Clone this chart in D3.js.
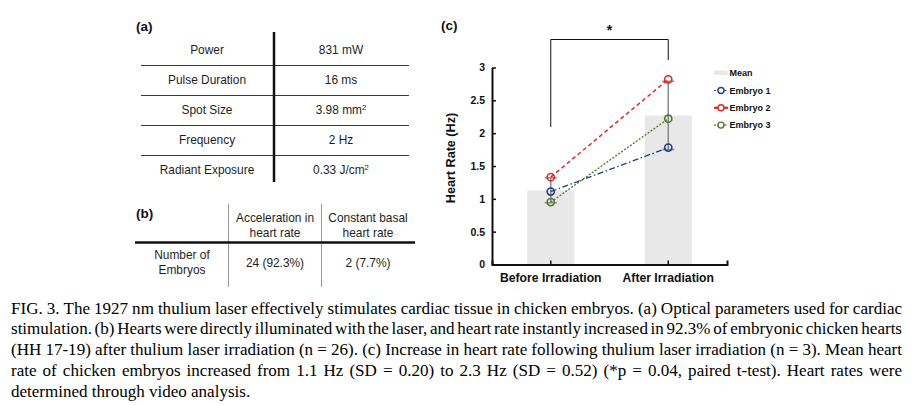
<!DOCTYPE html>
<html>
<head>
<meta charset="utf-8">
<script src="https://cdn.jsdelivr.net/npm/d3@7"></script>
<style>
  html, body { margin: 0; padding: 0; background: #fff; }
  svg { display: block; }
</style>
</head>
<body>
<svg id="fig" width="921" height="405"></svg>
<script>
// ---------- DATA ----------
const paramNames = ["Power", "Pulse Duration", "Spot Size", "Frequency", "Radiant Exposure"];
const paramValues = ["831 mW", "16 ms", "3.98 mm|2", "2 Hz", "0.33 J/cm|2"];

const tableBHeaders = [["Acceleration in", "heart rate"], ["Constant basal", "heart rate"]];
const tableBRowLabel = ["Number of", "Embryos"];
const tableBCells = ["24 (92.3%)", "2 (7.7%)"];

const categories = ["Before Irradiation", "After Irradiation"];
const meanValues = [1.13, 2.27];
const sdValues = [0.19, 0.52];
const embryo1 = [1.11, 1.78];
const embryo2 = [1.33, 2.82];
const embryo3 = [0.95, 2.22];
const seriesNames = ["Embryo 1", "Embryo 2", "Embryo 3"];
const yTicks = [0, 0.5, 1, 1.5, 2, 2.5, 3];

const captionLines = [
  "FIG. 3. The 1927 nm thulium laser effectively stimulates cardiac tissue in chicken embryos. (a) Optical parameters used for cardiac",
  "stimulation. (b) Hearts were directly illuminated with the laser, and heart rate instantly increased in 92.3% of embryonic chicken hearts",
  "(HH 17-19) after thulium laser irradiation (n = 26). (c) Increase in heart rate following thulium laser irradiation (n = 3). Mean heart",
  "rate of chicken embryos increased from 1.1 Hz (SD = 0.20) to 2.3 Hz (SD = 0.52) (*p = 0.04, paired t-test). Heart rates were",
  "determined through video analysis."
];

// ---------- SETUP ----------
const svg = d3.select("#fig");
const SANS = "'Liberation Sans', Arial, sans-serif";
const tcol = "#1e1e1e";
const TFS = 11.9;

// ---------- TABLE (a) ----------
const ta = svg.append("g");
ta.append("text").attr("x", 136).attr("y", 31).text("(a)")
  .attr("font-family", SANS).attr("font-weight", "bold").attr("font-size", 13.5).attr("fill", "#111");
const rowY = d3.scaleBand().domain(d3.range(paramNames.length)).range([35, 185]);
const colL = 207, colR = 341;
paramNames.forEach((n, i) => {
  const cy = rowY(i) + rowY.bandwidth() / 2;
  ta.append("text").attr("x", colL).attr("y", cy + 4).attr("text-anchor", "middle")
    .attr("font-family", SANS).attr("font-size", TFS).attr("fill", tcol).text(n);
  const parts = paramValues[i].split("|");
  const t = ta.append("text").attr("x", colR).attr("y", cy + 4).attr("text-anchor", "middle")
    .attr("font-family", SANS).attr("font-size", TFS).attr("fill", tcol);
  t.append("tspan").text(parts[0]);
  if (parts[1]) t.append("tspan").attr("dy", -4).attr("font-size", 7.8).text(parts[1]);
  if (i > 0) {
    ta.append("line").attr("x1", 141).attr("x2", 409).attr("y1", rowY(i) + 0.5).attr("y2", rowY(i) + 0.5)
      .attr("stroke", "#3a3a3a").attr("stroke-width", 1);
  }
});
ta.append("line").attr("x1", 274).attr("x2", 274).attr("y1", 32).attr("y2", 182)
  .attr("stroke", "#111").attr("stroke-width", 2.5);

// ---------- TABLE (b) ----------
const tb = svg.append("g");
tb.append("text").attr("x", 136).attr("y", 218).text("(b)")
  .attr("font-family", SANS).attr("font-weight", "bold").attr("font-size", 13.5).attr("fill", "#111");
const bCols = [275, 368];
tableBHeaders.forEach((h, i) => {
  h.forEach((s, j) => {
    tb.append("text").attr("x", bCols[i]).attr("y", 222 + j * 14.5).attr("text-anchor", "middle")
      .attr("font-family", SANS).attr("font-size", TFS).attr("fill", tcol).text(s);
  });
  tb.append("text").attr("x", bCols[i]).attr("y", 267).attr("text-anchor", "middle")
    .attr("font-family", SANS).attr("font-size", TFS).attr("fill", tcol).text(tableBCells[i]);
});
tableBRowLabel.forEach((s, j) => {
  tb.append("text").attr("x", 182).attr("y", 259 + j * 15).attr("text-anchor", "middle")
    .attr("font-family", SANS).attr("font-size", TFS).attr("fill", tcol).text(s);
});
[228.5, 321.5].forEach(x => {
  tb.append("line").attr("x1", x).attr("x2", x).attr("y1", 204).attr("y2", 287)
    .attr("stroke", "#9a9a9a").attr("stroke-width", 1);
});
tb.append("line").attr("x1", 135).attr("x2", 415).attr("y1", 242.5).attr("y2", 242.5)
  .attr("stroke", "#111").attr("stroke-width", 2.5);

// ---------- CHART (c) ----------
const x = d3.scaleBand().domain(categories).range([492, 727]);
const y = d3.scaleLinear().domain([0, 3]).range([264.5, 67.5]);
const cx = d => x(d) + x.bandwidth() / 2;
const gc = svg.append("g");

gc.append("text").attr("x", 441).attr("y", 30).text("(c)")
  .attr("font-family", SANS).attr("font-weight", "bold").attr("font-size", 13.5).attr("fill", "#111");

// bars
const barW = x.bandwidth() * 0.4;
gc.selectAll("rect.bar").data(categories).join("rect").attr("class", "bar")
  .attr("x", d => cx(d) - barW / 2).attr("width", barW)
  .attr("y", (d, i) => y(meanValues[i])).attr("height", (d, i) => y(0) - y(meanValues[i]))
  .attr("fill", "#e8e8e8");

// error bars
const eb = gc.append("g").attr("stroke", "#8a8a8a").attr("stroke-width", 1.5);
categories.forEach((c, i) => {
  const lo = y(meanValues[i] - sdValues[i]), hi = y(meanValues[i] + sdValues[i]);
  eb.append("line").attr("x1", cx(c)).attr("x2", cx(c)).attr("y1", lo).attr("y2", hi);
  [lo, hi].forEach(v => eb.append("line").attr("x1", cx(c) - 6).attr("x2", cx(c) + 6).attr("y1", v).attr("y2", v));
});

// axes
const yAxis = d3.axisLeft(y).tickValues(yTicks).tickFormat(d3.format("")).tickSizeInner(-4).tickSizeOuter(0).tickPadding(7);
const gy = gc.append("g").attr("transform", "translate(492,0)").call(yAxis);
gy.select(".domain").attr("stroke", "#111").attr("stroke-width", 2);
gy.selectAll(".tick line").attr("stroke", "#111").attr("stroke-width", 1.5);
gy.selectAll(".tick text").attr("font-family", SANS).attr("font-weight", "bold").attr("font-size", 10.5).attr("fill", "#111");

const xAxis = d3.axisBottom(x).tickSizeInner(-4).tickSizeOuter(-4).tickPadding(9);
const gx = gc.append("g").attr("transform", "translate(0,264.5)").call(xAxis);
gx.select(".domain").attr("stroke", "#111").attr("stroke-width", 2);
gx.selectAll(".tick line").attr("stroke", "#111").attr("stroke-width", 1.5);
gx.selectAll(".tick text").attr("font-family", SANS).attr("font-weight", "bold").attr("font-size", 12.2).attr("fill", "#111");

gc.append("text").attr("transform", "translate(455,158) rotate(-90)").attr("text-anchor", "middle")
  .attr("font-family", SANS).attr("font-weight", "bold").attr("font-size", 12.6).attr("fill", "#111")
  .text("Heart Rate (Hz)");

// series
const series = [
  { name: seriesNames[0], vals: embryo1, color: "#1f3d8c", dash: "6,2.5,1.5,2.5", w: 1.3 },
  { name: seriesNames[1], vals: embryo2, color: "#e0282a", dash: "4,3", w: 1.5 },
  { name: seriesNames[2], vals: embryo3, color: "#4b7a2e", dash: "2,1.6", w: 1.3 }
];
const line = d3.line().x((d, i) => cx(categories[i])).y(d => y(d));
[series[1], series[2], series[0]].forEach(s => {
  gc.append("path").attr("d", line(s.vals)).attr("fill", "none")
    .attr("stroke", s.color).attr("stroke-width", s.w).attr("stroke-dasharray", s.dash);
});
series.forEach(s => {
  gc.selectAll(null).data(s.vals).join("circle")
    .attr("cx", (d, i) => cx(categories[i])).attr("cy", d => y(d)).attr("r", 3.6)
    .attr("fill", "none").attr("stroke", s.color).attr("stroke-width", 1.6);
});

// significance bracket
const bx1 = cx(categories[0]), bx2 = cx(categories[1]);
gc.append("path").attr("d", `M${bx1},127 V39.5 H${bx2} V60`).attr("fill", "none")
  .attr("stroke", "#111").attr("stroke-width", 1);
gc.append("text").attr("x", (bx1 + bx2) / 2).attr("y", 35).attr("text-anchor", "middle")
  .attr("font-family", SANS).attr("font-weight", "bold").attr("font-size", 14).attr("fill", "#111").text("*");

// legend
const lg = gc.append("g").attr("font-family", SANS).attr("font-weight", "bold").attr("font-size", 9).attr("fill", "#111");
lg.append("rect").attr("x", 714).attr("y", 70.5).attr("width", 13.5).attr("height", 4.5).attr("fill", "#e8e8e8");
lg.append("text").attr("x", 729.5).attr("y", 76).text("Mean");
series.forEach((s, i) => {
  const ly = 90.5 + i * 17.3;
  lg.append("line").attr("x1", 714).attr("x2", 728).attr("y1", ly).attr("y2", ly)
    .attr("stroke", s.color).attr("stroke-width", i === 1 ? 2.2 : 1.2).attr("stroke-dasharray", i === 1 ? null : "2,1.5");
  lg.append("circle").attr("cx", 721).attr("cy", ly).attr("r", 3).attr("fill", "#fff")
    .attr("stroke", s.color).attr("stroke-width", 1.4);
  lg.append("text").attr("x", 729.5).attr("y", ly + 3.3).text(s.name);
});

// ---------- CAPTION ----------
const cap = svg.append("g").attr("font-family", "'Liberation Serif', 'Times New Roman', serif")
  .attr("font-size", 17.05).attr("fill", "#000");
const capL = 11, capR = 902, capY0 = 313.5, capDY = 20.8;
captionLines.forEach((ln, li) => {
  const words = ln.split(" ");
  const yy = capY0 + li * capDY;
  const nodes = words.map(w => cap.append("text").attr("y", yy).text(w));
  const widths = nodes.map(n => n.node().getComputedTextLength());
  const total = d3.sum(widths);
  const last = li === captionLines.length - 1;
  const space = last ? 4.2 : (capR - capL - total) / (words.length - 1);
  let xx = capL;
  nodes.forEach((n, k) => { n.attr("x", xx); xx += widths[k] + space; });
});
</script>
</body>
</html>
